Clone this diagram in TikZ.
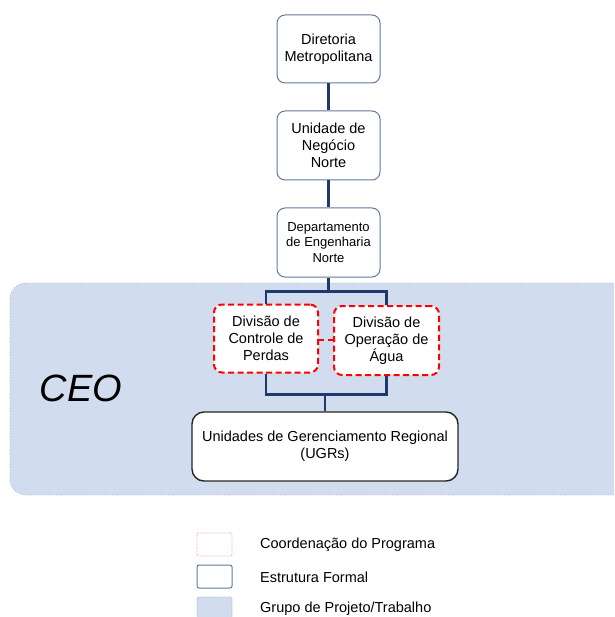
\documentclass[tikz,border=0pt]{standalone}
\usepackage{fontspec}
\setmainfont{Liberation Sans}
\definecolor{grpfill}{RGB}{209,220,238}
\definecolor{grpline}{RGB}{160,180,210}
\definecolor{boxline}{RGB}{100,120,158}
\definecolor{connc}{RGB}{31,56,110}
\definecolor{redc}{RGB}{255,0,0}
\definecolor{legred}{RGB}{245,150,150}
\tikzset{
  formal/.style={draw=boxline, line width=1pt, rounded corners=8pt, fill=white, align=center, font=\fontsize{14.5}{17}\selectfont, inner sep=0pt},
  coord/.style={draw=redc, line width=2pt, dash pattern=on 6pt off 3.5pt, rounded corners=8pt, fill=white, align=center, font=\fontsize{14.5}{17}\selectfont, inner sep=0pt},
  conn/.style={draw=connc, line width=2.2pt},
  redlink/.style={draw=redc, line width=2pt, dash pattern=on 5pt off 3.5pt},
  legtext/.style={anchor=west, font=\fontsize{14.5}{17}\selectfont, inner sep=0pt}
}
\begin{document}
\begin{tikzpicture}[x=1pt,y=-1pt]
\useasboundingbox (0,0) rectangle (614,617);
\clip (0,0) rectangle (614,617);
% group background
\draw[fill=grpfill, draw=grpline, line width=0.8pt, dotted, rounded corners=16pt] (10,283) rectangle (640,495);
\node[font=\fontsize{38}{40}\selectfont\itshape, inner sep=0pt] (ceo) at (81,388) {CEO};
% boxes
\node[formal, minimum width=103pt, minimum height=68pt] (dir) at (328.5,49) {Diretoria\\Metropolitana};
\node[formal, minimum width=103pt, minimum height=69pt] (un) at (328.5,145.5) {Unidade de\\Negócio\\Norte};
\node[formal, minimum width=103pt, minimum height=69pt, font=\fontsize{13}{15.5}\selectfont] (dep) at (328.5,242.5) {Departamento\\de Engenharia\\Norte};
\node[coord, minimum width=104pt, minimum height=68pt] (ctrl) at (266,338.5) {Divisão de\\Controle de\\Perdas};
\node[coord, minimum width=105pt, minimum height=69pt] (oper) at (386.5,340.5) {Divisão de\\Operação de\\Água};
\node[formal, draw=black!85, line width=1.4pt, rounded corners=12pt, minimum width=266pt, minimum height=69pt] (ugr) at (325,446.5) {Unidades de Gerenciamento Regional\\(UGRs)};
% connectors
\draw[conn] (dir.south) -- (un.north);
\draw[conn] (un.south) -- (dep.north);
\draw[conn] (dep.south) -- ++(0,14) coordinate (b1);
\draw[conn] (ctrl.north) |- (b1) -| (oper.north);
\draw[conn] (ctrl.south) -- ++(0,21) coordinate (b2) -| (oper.south);
\draw[conn] (ugr.north) -- (ugr.north |- b2);
\draw[redlink] ([yshift=-1.5pt]ctrl.east) -- ([yshift=-1.5pt]ctrl.east -| oper.west);
% legend
\node[draw=legred, line width=0.8pt, densely dotted, rounded corners=2pt, minimum width=35pt, minimum height=23pt, inner sep=0pt] (lg1) at (214.5,544.5) {};
\node[draw=boxline, line width=1pt, rounded corners=2pt, minimum width=35pt, minimum height=23pt, inner sep=0pt] (lg2) at (214.5,576.5) {};
\node[draw=grpline, fill=grpfill, line width=0.8pt, densely dotted, rounded corners=2pt, minimum width=35pt, minimum height=23pt, inner sep=0pt] (lg3) at (214.5,608.5) {};
\node[legtext] (t1) at (260,545) {Coordenação do Programa};
\node[legtext] (t2) at (260,577) {Estrutura Formal};
\node[legtext] (t3) at (260,609) {Grupo de Projeto/Trabalho};
\end{tikzpicture}
\end{document}
